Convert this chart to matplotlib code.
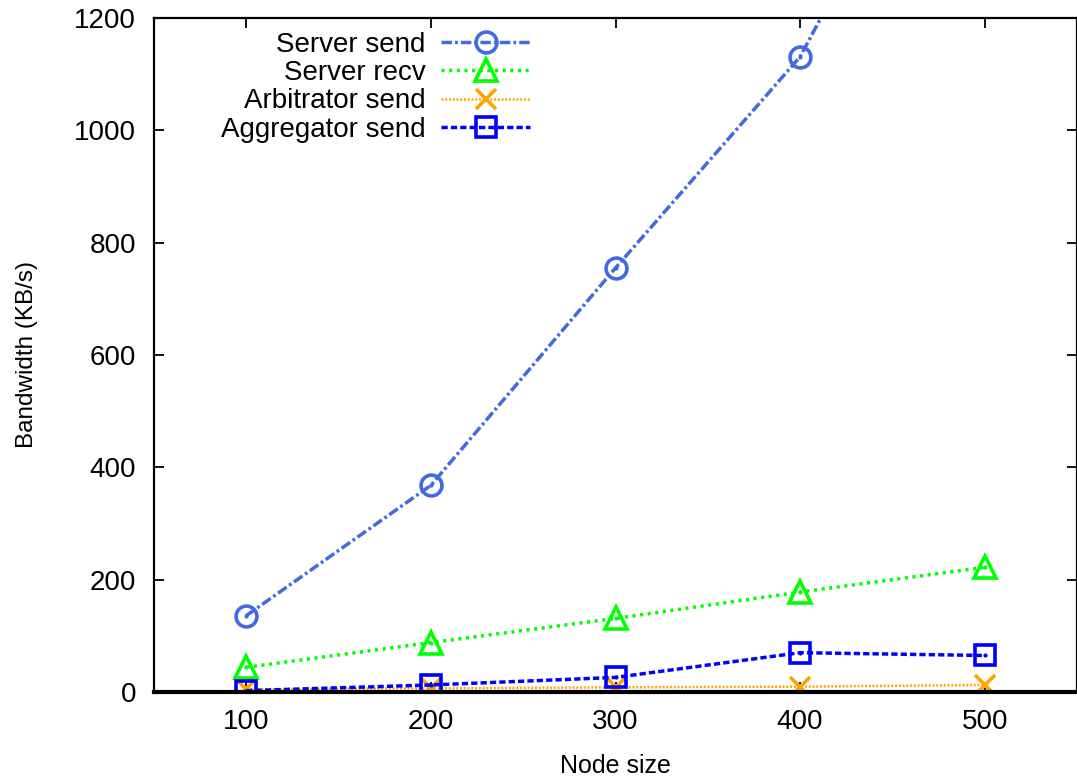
import matplotlib
matplotlib.use("Agg")
import matplotlib.pyplot as plt

# ============================================================
# DATA
# ============================================================

node_size = [100, 200, 300, 400, 500]

server_send = [136, 368, 755, 1131, 1745]
server_recv = [44, 88, 131, 178, 222]
arbitrator_send = [4.7, 6.5, 8.3, 9.5, 12.5]
aggregator_send = [2.4, 12.5, 26, 70, 65]

x_ticks = [100, 200, 300, 400, 500]
y_ticks = [0, 200, 400, 600, 800, 1000, 1200]

# ============================================================
# STYLE
# ============================================================

plt.rcParams["font.family"] = ["Liberation Sans", "DejaVu Sans"]

LW = 2.5
SERIES = [
    ("Server send", server_send, "#4169e1", "o", (0, (3.0, 0.9, 0.8, 0.9)), LW),
    ("Server recv", server_recv, "#00ff00", "^", (0, (0.9, 1.3)), LW),
    ("Arbitrator send", arbitrator_send, "#ffa500", "x", (0, (0.8, 0.7)), 1.8),
    ("Aggregator send", aggregator_send, "#0000ff", "s", (0, (1.8, 0.9)), LW),
]

# ============================================================
# PLOT
# ============================================================

fig = plt.figure(figsize=(10.77, 7.81), dpi=100)
ax = fig.add_axes([154 / 1077, 1 - 692 / 781, 1 - 154 / 1077, (692 - 18) / 781])

for label, vals, color, marker, ls, lw in SERIES:
    ms = 15 if marker != "^" else 16
    ax.plot(
        node_size, vals,
        color=color,
        linestyle=ls,
        linewidth=lw,
        marker=marker,
        markersize=ms,
        markerfacecolor="none",
        markeredgecolor=color,
        markeredgewidth=2.6,
        label=label,
    )
    ax.plot(node_size, vals, linestyle="none", marker=".", markersize=4,
            color=color, label="_nolegend_")

ax.set_xlim(50, 550)
ax.set_ylim(0, 1200)
ax.set_xticks(x_ticks)
ax.set_yticks(y_ticks)

ax.tick_params(axis="both", direction="in", length=7, width=1.3,
               labelsize=20, top=True, right=True)
ax.tick_params(axis="y", pad=13)
ax.tick_params(axis="x", pad=12)

for side in ["left", "top", "right"]:
    ax.spines[side].set_linewidth(1.6)
ax.spines["bottom"].set_linewidth(3)

ax.set_xlabel("Node size", fontsize=18, labelpad=14)
ax.set_ylabel("Bandwidth (KB/s)", fontsize=17.5, labelpad=26)

ax.legend(
    loc="upper right",
    bbox_to_anchor=(530 / 1077, 1 - 32 / 781),
    bbox_transform=fig.transFigure,
    frameon=False,
    markerfirst=False,
    numpoints=1,
    fontsize=20,
    handlelength=3.2,
    handletextpad=0.55,
    labelspacing=0.08,
    borderpad=0,
    borderaxespad=0,
)

fig.savefig("out.png", dpi=100)
